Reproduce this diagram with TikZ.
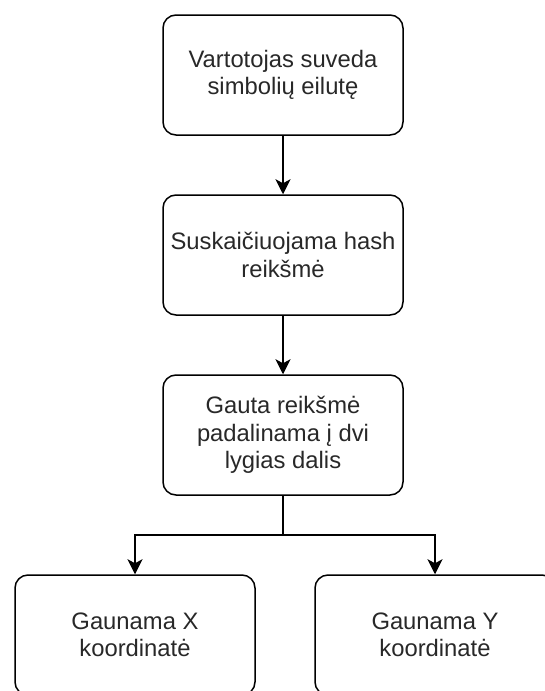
\documentclass[tikz,border=0pt]{standalone}
\usepackage{fontspec}
\setmainfont{Liberation Sans}
\usetikzlibrary{arrows.meta}
\definecolor{txt}{RGB}{40,40,40}
\begin{document}
\begin{tikzpicture}[x=1pt,y=-1pt,
  stepbox/.style={draw, line width=1.5pt, rounded corners=13pt,
    minimum width=240pt, minimum height=120pt, inner sep=0pt,
    align=center, text=txt, font=\fontsize{23.8}{27.5}\selectfont},
  flow/.style={line width=1.5pt, -{Stealth[length=15pt,width=15pt,inset=4pt]}}]
  \useasboundingbox (0,0) rectangle (545,691);
  \clip (0,0) rectangle (545,691);

  % process steps
  \node[stepbox] (input) at (283,75) {Vartotojas suveda\\simbolių eilutę};
  \node[stepbox] (hash)  at (283,255) {Suskaičiuojama hash\\reikšmė};
  \node[stepbox] (split) at (283,435) {Gauta reikšmė\\padalinama į dvi\\lygias dalis};
  \node[stepbox] (xco)   at (135,635) {Gaunama X\\koordinatė};
  \node[stepbox] (yco)   at (435,635) {Gaunama Y\\koordinatė};

  % branching point below the split step
  \coordinate (fork) at (283,535);

  % connectors
  \draw[flow] (input) -- (hash);
  \draw[flow] (hash) -- (split);
  \draw[flow] (split.south) -- (fork) -| (xco.north);
  \draw[flow] (fork) -| (yco.north);
\end{tikzpicture}
\end{document}
